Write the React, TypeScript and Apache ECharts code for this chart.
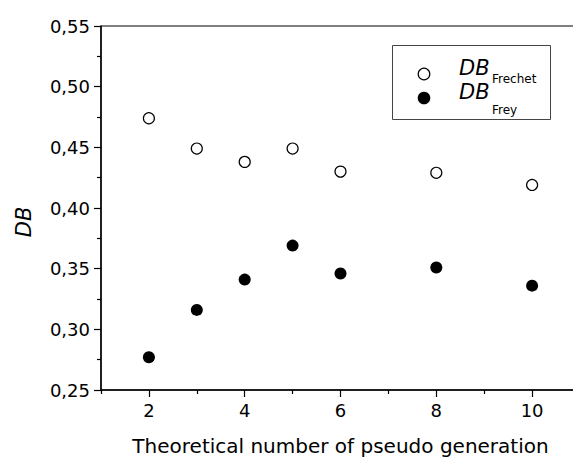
import React, { useEffect, useRef } from "react";
import * as echarts from "echarts";

const generations = [2, 3, 4, 5, 6, 8, 10];
const dbFrechet = [0.474, 0.449, 0.438, 0.449, 0.43, 0.429, 0.419];
const dbFrey = [0.277, 0.316, 0.341, 0.369, 0.346, 0.351, 0.336];
const xMajorTicks = [2, 4, 6, 8, 10];
const xMinorTicks = [1, 3, 5, 7, 9, 11];
const xTitle = "Theoretical number of pseudo generation";
const yTitle = "DB";
const legendNames = ["Frechet", "Frey"];

const FONT = "DejaVu Sans";

export default function App() {
  const ref = useRef<HTMLDivElement>(null);
  useEffect(() => {
    if (!ref.current) return;
    const chart = echarts.init(ref.current, undefined, { renderer: "svg" });
    const pairs = (ys: number[]) => generations.map((g, i) => [g, ys[i]]);
    chart.setOption({
      animation: false,
      backgroundColor: "#fff",
      grid: {
        left: 101,
        top: 26,
        right: 20,
        bottom: 68,
        show: true,
        borderColor: "#000",
        borderWidth: 1,
        backgroundColor: "transparent",
      },
      xAxis: [
        {
          type: "value",
          min: 1,
          max: 11,
          position: "bottom",
          axisLine: { show: true, onZero: false, lineStyle: { color: "#000", width: 1.5 } },
          axisTick: { show: true, inside: false, length: 7, customValues: xMajorTicks, lineStyle: { color: "#000", width: 1.2 } },
          axisLabel: {
            customValues: xMajorTicks,
            margin: 11,
            color: "#000",
            fontFamily: FONT,
            fontSize: 18,
          },
          splitLine: { show: false },
          name: xTitle,
          nameLocation: "middle",
          nameGap: 46,
          nameTextStyle: { color: "#000", fontFamily: FONT, fontSize: 20 },
        },
        {
          type: "value",
          min: 1,
          max: 11,
          position: "bottom",
          axisLine: { show: false, onZero: false },
          axisTick: { show: true, inside: false, length: 4, customValues: xMinorTicks, lineStyle: { color: "#000", width: 1.2 } },
          axisLabel: { show: false },
          splitLine: { show: false },
        },
      ],
      yAxis: {
        type: "value",
        min: 0.25,
        max: 0.55,
        interval: 0.05,
        axisLine: { show: true, onZero: false, lineStyle: { color: "#000", width: 1.5 } },
        axisTick: { show: true, inside: false, length: 7, lineStyle: { color: "#000", width: 1.2 } },
        minorTick: { show: true, splitNumber: 2, length: 4, lineStyle: { color: "#000", width: 1.2 } },
        axisLabel: {
          margin: 11,
          color: "#000",
          fontFamily: FONT,
          fontSize: 18,
          formatter: (v: number) => v.toFixed(2).replace(".", ","),
        },
        splitLine: { show: false },
      },
      series: [
        {
          name: "DB_Frechet",
          type: "scatter",
          data: pairs(dbFrechet),
          symbol: "circle",
          symbolSize: 11,
          itemStyle: { color: "#fff", borderColor: "#000", borderWidth: 1.2, opacity: 1 },
        },
        {
          name: "DB_Frey",
          type: "scatter",
          data: pairs(dbFrey),
          symbol: "circle",
          symbolSize: 12,
          itemStyle: { color: "#000", borderColor: "#000", borderWidth: 0, opacity: 1 },
        },
      ],
      graphic: [
        {
          type: "text",
          x: 24,
          y: 222,
          rotation: Math.PI / 2,
          style: {
            text: yTitle,
            fontFamily: FONT,
            fontSize: 21,
            fontStyle: "italic",
            fill: "#000",
            align: "center",
            verticalAlign: "middle",
          },
        },
        {
          type: "rect",
          shape: { x: 392.5, y: 45.5, width: 158, height: 74 },
          style: { fill: "#fff", stroke: "#444", lineWidth: 1 },
        },
        {
          type: "circle",
          shape: { cx: 424, cy: 74, r: 5.8 },
          style: { fill: "#fff", stroke: "#000", lineWidth: 1.2 },
        },
        {
          type: "circle",
          shape: { cx: 424, cy: 98, r: 6.3 },
          style: { fill: "#000" },
        },
        {
          type: "text",
          x: 459,
          y: 78,
          style: { text: yTitle, fontFamily: FONT, fontSize: 21, fontStyle: "italic", fill: "#000", verticalAlign: "bottom" },
        },
        {
          type: "text",
          x: 492,
          y: 85,
          style: { text: legendNames[0], fontFamily: FONT, fontSize: 12, fill: "#000", verticalAlign: "bottom" },
        },
        {
          type: "text",
          x: 459,
          y: 102,
          style: { text: yTitle, fontFamily: FONT, fontSize: 21, fontStyle: "italic", fill: "#000", verticalAlign: "bottom" },
        },
        {
          type: "text",
          x: 492,
          y: 116,
          style: { text: legendNames[1], fontFamily: FONT, fontSize: 12, fill: "#000", verticalAlign: "bottom" },
        },
      ],
    });
    return () => chart.dispose();
  }, []);
  return (
    <div style={{ position: "absolute", left: 0, top: 0, width: 573, height: 461, overflow: "hidden" }}>
      <div ref={ref} style={{ width: 600, height: 461 }} />
    </div>
  );
}
